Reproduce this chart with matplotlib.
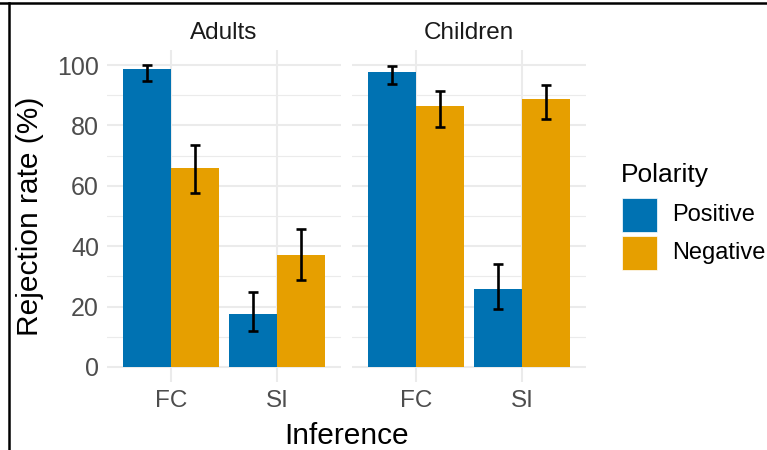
import matplotlib
matplotlib.use("Agg")
import matplotlib.pyplot as plt
from matplotlib.patches import Rectangle
from matplotlib.lines import Line2D
import numpy as np

plt.rcParams['font.family'] = ['Liberation Sans', 'DejaVu Sans']

groups = ["Adults", "Children"]
inferences = ["FC", "SI"]
polarities = ["Positive", "Negative"]
colors = ["#0072B2", "#E69F00"]

# values[group][polarity] for FC, SI
values = {
    "Adults":   {"Positive": [98.6, 17.5], "Negative": [66.0, 37.1]},
    "Children": {"Positive": [97.8, 25.8], "Negative": [86.4, 88.6]},
}
err_low = {
    "Adults":   {"Positive": [94.7, 11.9], "Negative": [57.5, 28.8]},
    "Children": {"Positive": [93.7, 19.1], "Negative": [79.5, 82.1]},
}
err_high = {
    "Adults":   {"Positive": [100.0, 24.8], "Negative": [73.6, 45.7]},
    "Children": {"Positive": [99.6, 34.0], "Negative": [91.3, 93.3]},
}

W, H = 767, 450
fig = plt.figure(figsize=(W / 100, H / 100), dpi=100)
fig.patch.set_facecolor("white")

def fx(px):
    return px / W

def fy(py):
    return 1 - py / H

axes_left = [107.4, 352.4]
ax_w = 233.2
ax_top, ax_bot = 50, 382

grid_col = "#EBEBEB"
xpos = np.arange(len(inferences))
bw = 0.45
for gi, g in enumerate(groups):
    ax = fig.add_axes([fx(axes_left[gi]), fy(ax_bot), ax_w / W, (ax_bot - ax_top) / H])
    ax.set_facecolor("white")
    ax.set_xlim(-0.6, 1.6)
    ax.set_ylim(-5, 105)
    for y in [10, 30, 50, 70, 90]:
        ax.axhline(y, color=grid_col, lw=0.8, zorder=0)
    for y in [0, 20, 40, 60, 80, 100]:
        ax.axhline(y, color=grid_col, lw=1.5, zorder=0)
    for x in xpos:
        ax.axvline(x, color=grid_col, lw=1.5, zorder=0)
    for pi, p in enumerate(polarities):
        off = (pi - 0.5) * bw
        v = np.array(values[g][p])
        lo = np.array(err_low[g][p])
        hi = np.array(err_high[g][p])
        ax.bar(xpos + off, v, width=bw, color=colors[pi], edgecolor="none", zorder=2)
        ax.errorbar(xpos + off, v, yerr=[v - lo, hi - v], fmt="none", ecolor="black",
                    elinewidth=1.9, capsize=3.8, capthick=1.9, zorder=3)
    for s in ax.spines.values():
        s.set_visible(False)
    ax.set_xticks(xpos)
    ax.set_xticklabels(inferences, fontsize=17.5)
    ax.set_yticks([0, 20, 40, 60, 80, 100])
    ax.tick_params(length=0, labelcolor="#4D4D4D", pad=6)
    ax.tick_params(axis="y", labelsize=18)
    if gi == 1:
        ax.set_yticklabels([])
    ax.set_title(g, fontsize=17.5, color="#1A1A1A", pad=8)

fig.text(fx(346.5), fy(444), "Inference", ha="center", va="baseline", fontsize=21.5)
fig.text(fx(30), fy(216), "Rejection rate (%)", ha="center", va="center",
         rotation=90, fontsize=21.5)

# legend
fig.text(fx(621), fy(182), "Polarity", ha="left", va="baseline", fontsize=19)
key_tops = [198, 236]
for pi, p in enumerate(polarities):
    fig.patches.append(Rectangle((fx(622), fy(key_tops[pi] + 34)), 35 / W, 34 / H,
                                 transform=fig.transFigure, facecolor=colors[pi],
                                 edgecolor="white", lw=0.5))
    fig.text(fx(672), fy(key_tops[pi] + 17), p, ha="left", va="center", fontsize=17)

# frame lines
fig.add_artist(Line2D([0, 1], [fy(3), fy(3)], transform=fig.transFigure, color="black", lw=1.8))
fig.add_artist(Line2D([fx(9), fx(9)], [0, fy(3)], transform=fig.transFigure, color="black", lw=1.8))

fig.savefig("out.png", dpi=100)
